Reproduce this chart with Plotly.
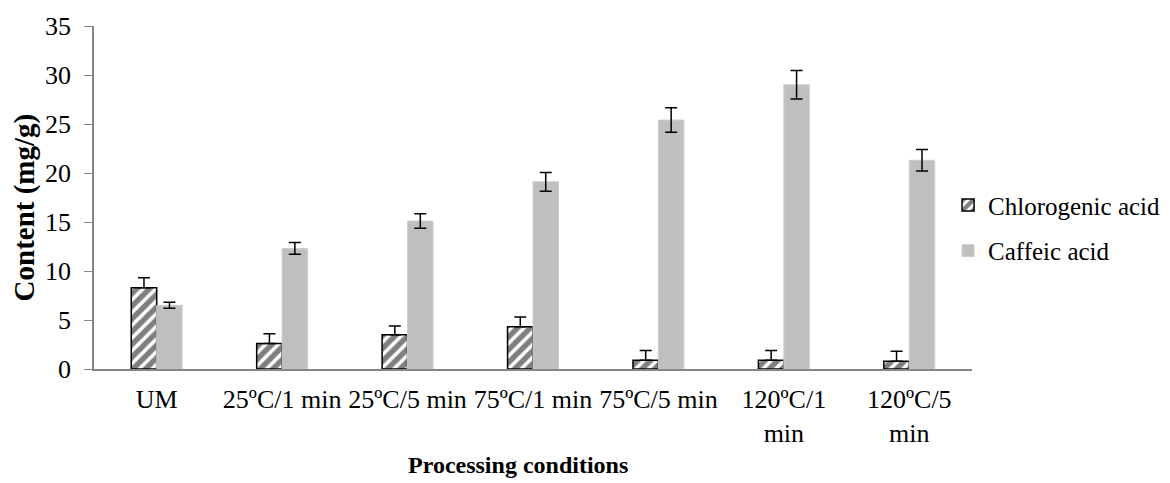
import plotly.graph_objects as go

categories = ["UM", "25ºC/1 min", "25ºC/5 min", "75ºC/1 min", "75ºC/5 min", "120ºC/1<br>min", "120ºC/5<br>min"]
chlorogenic = [8.3, 2.6, 3.5, 4.3, 0.9, 0.9, 0.8]
chlorogenic_err = [1.0, 1.0, 0.9, 1.0, 1.0, 1.0, 1.0]
caffeic = [6.5, 12.3, 15.1, 19.1, 25.4, 29.0, 21.3]
caffeic_err = [0.3, 0.6, 0.75, 0.95, 1.25, 1.45, 1.1]
y_ticks = [0, 5, 10, 15, 20, 25, 30, 35]

FONT = "Liberation Serif"

fig = go.Figure()
fig.add_trace(go.Bar(
    x=categories, y=chlorogenic, name="Chlorogenic acid",
    legendgroup="a",
    marker=dict(color="white", line=dict(color="black", width=1.5),
                pattern=dict(shape="/", fgcolor="black", bgcolor="white", size=9, solidity=0.6)),
    error_y=dict(type="data", array=chlorogenic_err, arrayminus=[0] * len(chlorogenic_err),
                 symmetric=False, color="black", thickness=1.5, width=6),
))
fig.add_trace(go.Bar(
    x=categories, y=caffeic, name="Caffeic acid",
    legendgroup="b",
    marker=dict(color="#bfbfbf", line=dict(color="#cdcdcd", width=1)),
    error_y=dict(type="data", array=caffeic_err, symmetric=True, color="black", thickness=1.5, width=6),
))

fig.update_layout(
    width=1162, height=475,
    margin=dict(l=86, r=198, t=18, b=114, autoexpand=False),
    paper_bgcolor="white", plot_bgcolor="white",
    font=dict(family=FONT, size=26, color="black"),
    barmode="group", bargap=0.594, bargroupgap=0,
    showlegend=True,
    legend=dict(xref="container", yref="container", x=0.809, xanchor="left", y=0.633, yanchor="top",
                font=dict(family=FONT, size=25, color="black"),
                tracegroupgap=10, itemwidth=30, bgcolor="rgba(0,0,0,0)"),
    xaxis=dict(showline=True, linecolor="#868686", linewidth=1.5, ticks="",
               showgrid=False, tickfont=dict(family=FONT, size=26), tickangle=0,
               ticklabelstandoff=6, automargin=False),
    yaxis=dict(range=[0, 35], tickvals=y_ticks, showline=True, linecolor="#868686", linewidth=1.5,
               ticks="outside", ticklen=8, tickcolor="#868686", showgrid=False, zeroline=False,
               tickfont=dict(family=FONT, size=26), ticklabelstandoff=8, automargin=False),
    annotations=[
        dict(text="<b>Content (mg/g)</b>", textangle=-90, xref="paper", yref="paper",
             x=-0.079, y=0.47, xanchor="center", yanchor="middle", showarrow=False,
             font=dict(family=FONT, size=29)),
        dict(text="<b>Processing conditions</b>", xref="paper", yref="paper",
             x=0.483, y=-0.28, xanchor="center", yanchor="middle", showarrow=False,
             font=dict(family=FONT, size=24)),
    ],
)

fig.write_html("out.html")
